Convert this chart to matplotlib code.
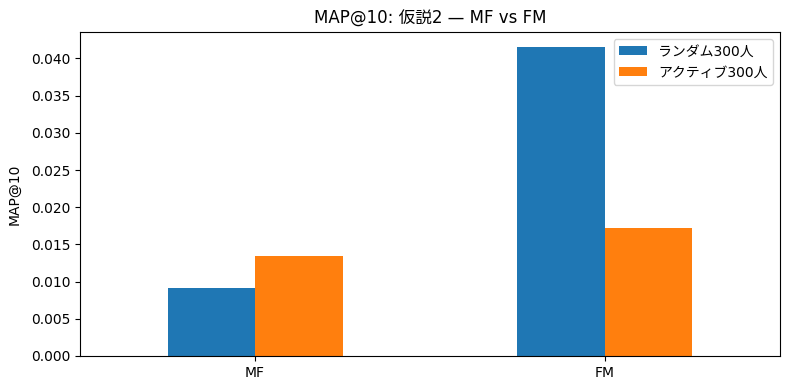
import numpy as np
import matplotlib
matplotlib.use('Agg')
import matplotlib.pyplot as plt

plt.rcParams['font.family'] = ['DejaVu Sans', 'Noto Sans CJK JP']

models = ['MF', 'FM']
random300 = [0.00913, 0.04148]
active300 = [0.01342, 0.01718]
series_labels = ['ランダム300人', 'アクティブ300人']

x = np.arange(len(models))
w = 0.25
fig, ax = plt.subplots(figsize=(7.9, 3.9), dpi=100)
ax.bar(x - w/2, random300, w, color='#1f77b4', label=series_labels[0])
ax.bar(x + w/2, active300, w, color='#ff7f0e', label=series_labels[1])
ax.set_xlim(-0.5, 1.5)
ax.set_xticks(x)
ax.set_xticklabels(models)
ax.set_ylabel('MAP@10', labelpad=7)
ax.set_title('MAP@10: 仮説2 — MF vs FM')
ax.legend(loc='upper right')
fig.subplots_adjust(left=0.1013, right=0.9873, top=0.918, bottom=0.0872)
fig.savefig('out.png')
